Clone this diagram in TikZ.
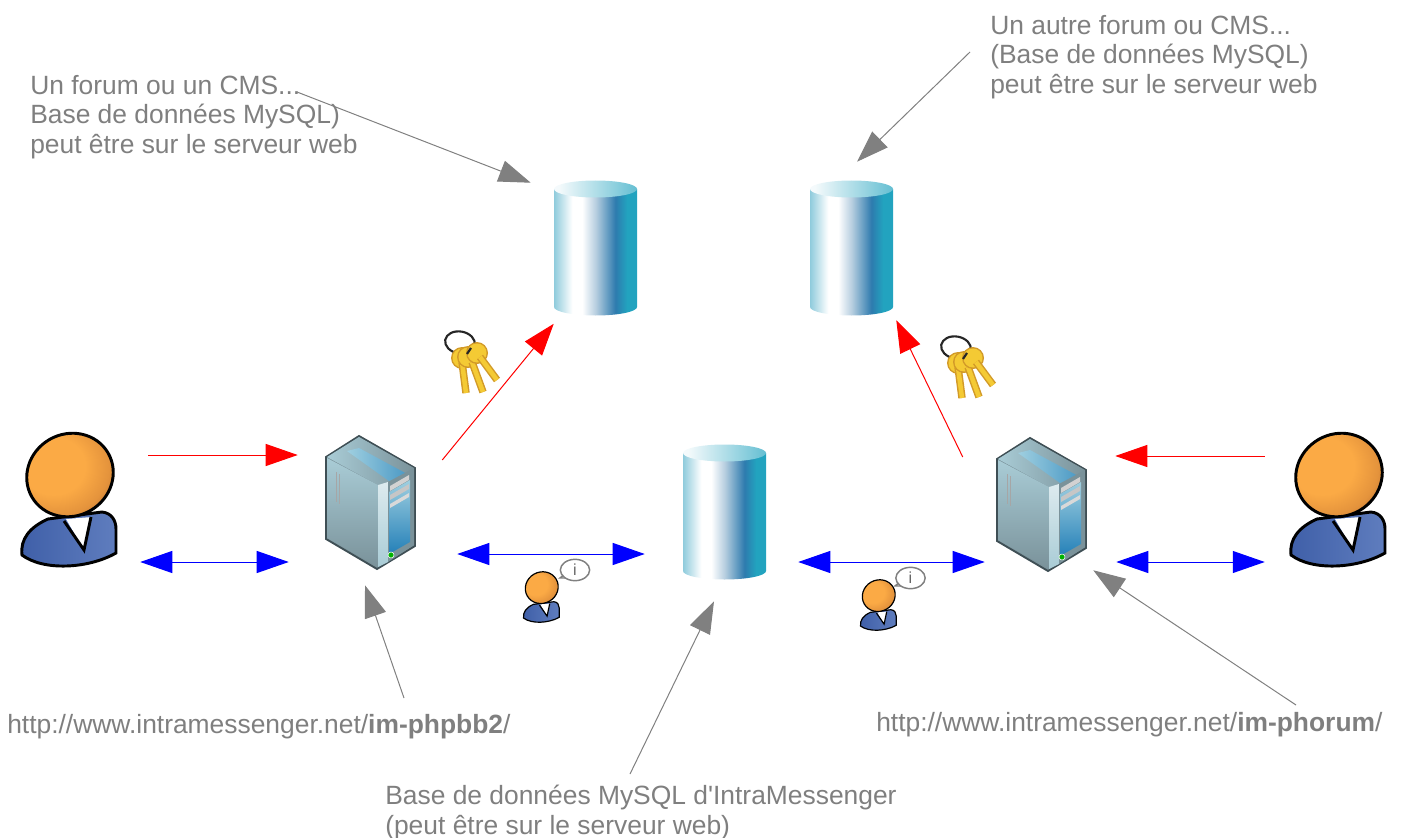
\documentclass[tikz,border=0pt]{standalone}
\usepackage{fontspec}
\setmainfont{Liberation Sans}
\usetikzlibrary{arrows.meta,shapes.geometric}
\definecolor{labelgray}{HTML}{7F7F7F}
\definecolor{keygold}{HTML}{F4CA34}
\definecolor{keyedge}{HTML}{D29A28}
\definecolor{dbleft}{HTML}{8FCBDC}
\definecolor{dbmid}{HTML}{B8CFE0}
\definecolor{dbdark}{HTML}{2E7BAE}
\definecolor{dbteal}{HTML}{22A3BF}
\definecolor{headlight}{HTML}{FBAA45}
\definecolor{headmid}{HTML}{E4933C}
\definecolor{headdark}{HTML}{A85F2A}
\definecolor{bodyleft}{HTML}{3F5FA8}
\definecolor{bodymid}{HTML}{6F84C0}
\definecolor{bodyright}{HTML}{5F7DBE}
\definecolor{caseline}{HTML}{3F4F55}
\definecolor{sidetop}{HTML}{A9CCD6}
\definecolor{sidebot}{HTML}{7A929A}
\definecolor{paneltop}{HTML}{9FCFE0}
\definecolor{panelbot}{HTML}{2480B8}
\pgfdeclarehorizontalshading{dbbody}{100bp}{
	color(0bp)=(dbleft);
	color(25bp)=(dbleft);
	color(36bp)=(white);
	color(42bp)=(white);
	color(50bp)=(dbmid);
	color(62bp)=(dbdark);
	color(69bp)=(dbteal);
	color(100bp)=(dbteal)}
\pgfdeclarehorizontalshading{dbtop}{100bp}{
	color(0bp)=(white);
	color(28bp)=(white!90!dbleft);
	color(75bp)=(dbteal!70!white);
	color(100bp)=(dbteal!70!white)}
\pgfdeclareradialshading{headshade}{\pgfpoint{-10bp}{8bp}}{
	color(0bp)=(headlight);
	color(16bp)=(headlight);
	color(27bp)=(headmid);
	color(38bp)=(headdark);
	color(100bp)=(headdark)}
\tikzset{
	x=.75pt,y=-.75pt,
	every node/.style={inner sep=0pt},
	iconline/.style={line width=2.2pt},
	labeltext/.style={text=labelgray,font=\fontsize{19.8}{22.1}\selectfont,align=left,anchor=north west},
	userbox/.style={minimum width=73.5pt,minimum height=100.5pt},
	smalluserbox/.style={minimum width=27pt,minimum height=36pt},
	serverbox/.style={minimum width=69pt,minimum height=102pt},
	dbbox/.style={minimum width=62.25pt,minimum height=101.25pt},
	keybox/.style={minimum width=45pt,minimum height=52.5pt},
	infobubble/.style={ellipse,draw=gray,line width=1.1pt,fill=white,minimum width=22pt,minimum height=16pt,text=gray!80!black,font=\fontsize{12}{12}\selectfont},
	redarrow/.style={draw=red,line width=.75pt,-{Triangle[length=24pt,width=16.5pt,fill=red]}},
	bluearrow/.style={draw=blue,line width=.75pt,{Triangle[length=24pt,width=16.5pt,fill=blue]}-{Triangle[length=24pt,width=16.5pt,fill=blue]}},
	grayarrow/.style={draw=gray,line width=.75pt,-{Triangle[length=24pt,width=16.5pt,fill=gray]}},
	usericon/.pic={
		\draw[iconline,left color=bodyleft,middle color=bodymid,right color=bodyright]
			(-46,58) .. controls (-48,42) and (-38,30) .. (-20,22) -- (34,15)
			.. controls (44,16) and (48,24) .. (48,32) -- (48,56)
			.. controls (20,72) and (-25,74) .. (-46,58) -- cycle;
		\fill[white] (-2,22) -- (24,20) -- (16,53) -- cycle;
		\draw[iconline] (-4,24) -- (16,53) -- (23,20);
		\draw[iconline,shading=headshade,shift={(2,-22)},rotate=30] (0,0) ellipse (44 and 41);
	},
	servericon/.pic={
		\draw[line width=1.4pt,draw=caseline,fill=sidebot] (-44,-45) -- (-11,-66) -- (45,-34) -- (45,44) -- (7,67) -- (-44,37) -- cycle;
		\shade[left color=sidetop,right color=sidebot] (-43,-45) -- (-11,-65) -- (44,-34) -- (17,-19) -- (8,-17) -- cycle;
		\shade[left color=paneltop,right color=panelbot!70!paneltop] (-23,-51) -- (-11,-54) -- (39,-27) -- (19,-21) -- cycle;
		\shade[top color=sidetop,bottom color=sidebot] (-43,-44) -- (8,-17) -- (8,65) -- (-43,36) -- cycle;
		\draw[gray!70] (-34,-30) -- (-34,0) (-31,-28) -- (-31,2);
		\shade[top color=white!60!sidetop,bottom color=sidetop] (8,-17) -- (18,-20) -- (18,60) -- (8,65) -- cycle;
		\fill[sidebot] (18,-20) -- (44,-34) -- (44,43) -- (18,60) -- cycle;
		\shade[top color=paneltop,bottom color=panelbot] (19,-10) -- (40,-22) -- (40,40) -- (19,52) -- cycle;
		\fill[gray!35] (20,-16) -- (39,-27) -- (39,-22) -- (20,-11) -- cycle;
		\fill[gray!45] (20,-7) -- (39,-18) -- (39,-13) -- (20,-2) -- cycle;
		\fill[gray!30] (20,2) -- (39,-9) -- (39,-5) -- (20,6) -- cycle;
		\fill[green!70!black,draw=white,line width=.4pt] (21,53) circle (3);
	},
	dbicon/.pic={
		\shade[shading=dbbody] (-41.5,-59) -- (-41.5,59) arc[start angle=180,end angle=360,x radius=41.5,y radius=-8.5] -- (41.5,-59) -- cycle;
		\shade[shading=dbtop] (0,-59) ellipse (41.5 and 8.5);
	},
	keysicon/.pic={
		\draw[line width=1.6pt,black!85,shift={(-12,-22.5)},rotate=-10] (0,0) ellipse (15 and 11);
		\foreach \sx/\sy/\ex/\ey/\bx/\by in {-10/-3/-6/28/-10/-7, 0/-3/11/27/-4/-8, 8/-8/25/15/5/-12}{
			\fill[keyedge] (\bx,\by) circle (11);
			\fill[keygold] (\bx,\by) circle (9.5);
			\draw[line width=5.6pt,draw=keyedge] (\sx,\sy) -- (\ex,\ey);
			\draw[line width=3.4pt,draw=keygold] (\sx,\sy) -- (\ex,\ey);
		}
		\draw[line width=1.6pt,black!85] (-1,-17) -- (-5,-11);
	}
}
\begin{document}
\begin{tikzpicture}
	\useasboundingbox (0,0) rectangle (1402,838);

	\node[labeltext] (forumA) at (30,75) {Un forum ou un CMS...\\Base de données MySQL)\\peut être sur le serveur web};
	\node[labeltext] (forumB) at (990,15) {Un autre forum ou CMS...\\(Base de données MySQL)\\peut être sur le serveur web};
	\node[labeltext] (urlA) at (7,714) {http://www.intramessenger.net/\textbf{im-phpbb2}/};
	\node[labeltext] (urlB) at (876,712) {http://www.intramessenger.net/\textbf{im-phorum}/};
	\node[labeltext] (baseIM) at (385,785) {Base de données MySQL d\textquotesingle IntraMessenger\\(peut être sur le serveur web)};

	\node[userbox] (user1) at (68,497) {};
	\node[userbox] (user2) at (1337,497) {};
	\node[serverbox] (server1) at (370,502) {};
	\node[serverbox] (server2) at (1041,504) {};
	\node[dbbox] (db1) at (595.5,248) {};
	\node[dbbox] (db2) at (851.5,248) {};
	\node[dbbox] (db3) at (724.5,512) {};
	\node[keybox] (keys1) at (472,365) {};
	\node[keybox] (keys2) at (968,370) {};
	\node[smalluserbox] (small1) at (541,596) {};
	\node[smalluserbox] (small2) at (878,604) {};

	\pic at (user1) {usericon};
	\pic at (user2) {usericon};
	\pic at (server1) {servericon};
	\pic at (server2) {servericon};
	\pic at (db1) {dbicon};
	\pic at (db2) {dbicon};
	\pic at (db3) {dbicon};
	\pic at (keys1) {keysicon};
	\pic at (keys2) {keysicon};
	\pic[scale=.38,iconline/.style={line width=.9pt}] at (small1) {usericon};
	\pic[scale=.38,iconline/.style={line width=.9pt}] at (small2) {usericon};

	\fill[white,draw=gray,line width=1.1pt] (565,574) -- (560,578) -- (570,578) -- cycle;
	\node[infobubble] (info1) at (575,570) {i};
	\fill[white,draw=gray,line width=1.1pt] (900,582) -- (895,586) -- (905,586) -- cycle;
	\node[infobubble] (info2) at (910.5,578) {i};

	\draw[redarrow] ([shift={(31,-42)}]user1.east) -- ([shift={(-26,-47)}]server1.west);
	\draw[redarrow] ([shift={(26,-42)}]server1.east) -- ([shift={(0,8)}]db1.south west);
	\draw[redarrow] ([shift={(-32,-47)}]server2.west) -- ([shift={(3,4.5)}]db2.south east);
	\draw[redarrow] ([shift={(-23,-41)}]user2.west) -- ([shift={(28,-48)}]server2.east);
	\draw[bluearrow] ([shift={(23,65)}]user1.east) -- ([shift={(-35,60)}]server1.west);
	\draw[bluearrow] ([shift={(41,52)}]server1.east) -- ([shift={(-38,42)}]db3.west);
	\draw[bluearrow] ([shift={(32,50)}]db3.east) -- ([shift={(-10,58)}]server2.west);
	\draw[bluearrow] ([shift={(29,58)}]server2.east) -- ([shift={(-23,65)}]user2.west);

	\draw[grayarrow] ([shift={(267,17)}]forumA.north west) -- ([shift={(-23,2.5)}]db1.north west);
	\draw[grayarrow] ([shift={(-20,37)}]forumB.north west) -- ([shift={(5.5,-18.5)}]db2.north);
	\draw[grayarrow] ([shift={(397,-16)}]urlA.north west) -- ([shift={(-5,15)}]server1.south);
	\draw[grayarrow] ([shift={(420,-7)}]urlB.north west) -- ([shift={(6,-2)}]server2.south east);
	\draw[grayarrow] ([shift={(245,-11)}]baseIM.north west) -- ([shift={(-10.5,21.5)}]db3.south);
\end{tikzpicture}
\end{document}
